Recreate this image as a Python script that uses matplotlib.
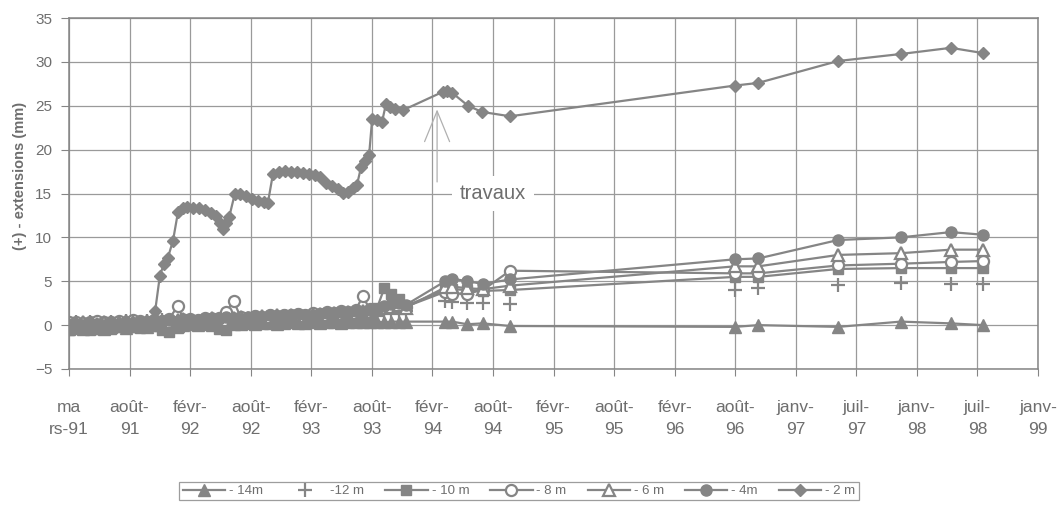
import numpy as np
import matplotlib
matplotlib.use("Agg")
import matplotlib.pyplot as plt

plt.rcParams['font.family'] = ['Liberation Sans', 'DejaVu Sans']

# ---------------- data ----------------
# x axis: days since 1 March 1991, one tick every 180 days
tick_labels = ["ma\nrs-91", "août-\n91", "févr-\n92", "août-\n92", "févr-\n93", "août-\n93",
               "févr-\n94", "août-\n94", "févr-\n95", "août-\n95", "févr-\n96", "août-\n96",
               "janv-\n97", "juil-\n97", "janv-\n98", "juil-\n98", "janv-\n99"]
tick_step = 180

# measurement days of the dense period (lower gauges)
days_dense = [0, 20, 41, 62, 84, 105, 126, 148, 169, 190, 212, 233, 254, 276, 297, 324,
              340, 361, 382, 404, 425, 446, 468, 489, 510, 532, 553, 574, 596, 617, 638,
              660, 681, 702, 724, 745, 766, 788, 809, 830, 852, 873, 894, 916, 937, 958,
              980, 1001]
# later, sparse measurement days
days_late = [1118, 1138, 1184, 1230, 1311, 1979, 2049, 2286, 2472, 2621, 2717]

m14 = [-0.4, -0.2, -0.4, -0.1, -0.3, -0.4, -0.2, -0.1, -0.3, -0.1, 0.0, -0.2, 0.0, 0.1, 0.0, -0.1,
       0.0, 0.1, 0.0, 0.1, 0.0, 0.1, 0.2, 0.1, 0.1, 0.2, 0.1, 0.2, 0.2, 0.1, 0.2, 0.3, 0.2, 0.2,
       0.3, 0.2, 0.3, 0.3, 0.2, 0.3, 0.4, 0.3, 0.3, 0.4, 0.3, 0.4, 0.4, 0.4,
       0.4, 0.4, 0.1, 0.2, -0.1, -0.2, 0.0, -0.2, 0.4, 0.2, 0.0]
m12 = [0.1, 0.3, 0.2, 0.4, 0.3, 0.2, 0.4, 0.3, 0.5, 0.4, 0.3, 0.5, 0.4, 0.6, 0.5, 0.4, 0.6,
       0.5, 0.4, 0.6, 0.5, 0.7, 0.6, 0.5, 0.7, 0.6, 0.8, 0.7, 0.6, 0.8, 0.7, 0.9, 0.8, 0.7,
       0.9, 0.8, 1.0, 0.9, 0.8, 1.0, 0.9, 1.1, 1.0, 1.2, 1.4, 1.5, 1.3, 1.6,
       2.7, 2.6, 2.5, 2.5, 2.4, 4.0, 4.2, 4.6, 4.8, 4.7, 4.7]
m10 = [-0.5, -0.4, -0.3, -0.5, -0.4, -0.3, -0.4, -0.2, -0.3, -0.2, -0.3, -0.2, -0.1, -0.6, -0.8,
       -0.3, 0.0, 0.1, 0.0, 0.2, 0.1, -0.4, -0.5, 0.1, 0.2, 0.3, 0.2, 0.3, 0.4, 0.3, 0.5, 0.4,
       0.5, 0.6, 0.5, 0.7, 0.6, 0.8, 0.7, 0.9, 0.8, 1.0, 1.2, 2.0, 4.2, 3.6, 3.0, 2.2,
       4.0, 4.1, 4.0, 3.9, 4.0, 5.5, 5.5, 6.4, 6.5, 6.5, 6.5]
m8 = [0.3, 0.4, 0.2, 0.3, 0.5, 0.4, 0.3, 0.5, 0.4, 0.6, 0.5, 0.4, 0.6, 0.5, 0.7, 2.2, 0.6,
      0.7, 0.6, 0.8, 0.7, 0.8, 1.5, 2.8, 0.9, 0.8, 1.0, 0.9, 1.1, 1.0, 1.2, 1.1, 1.3, 1.2,
      1.4, 1.3, 1.5, 1.4, 1.6, 1.5, 1.7, 3.3, 1.8, 1.7, 1.9, 2.1, 2.3, 2.1,
      3.8, 3.6, 3.6, 4.0, 6.2, 5.9, 5.9, 6.8, 7.0, 7.2, 7.3]
m6 = [0.1, 0.2, 0.3, 0.2, 0.1, 0.3, 0.4, 0.3, 0.5, 0.4, 0.3, 0.5, 0.6, 0.5, 0.4, 0.6, 0.7,
      0.6, 0.5, 0.7, 0.8, 0.7, 0.6, 0.8, 0.9, 0.8, 0.9, 1.0, 0.9, 1.1, 1.0, 1.2, 1.1, 1.0,
      1.2, 1.3, 1.2, 1.4, 1.3, 1.5, 1.4, 1.6, 1.5, 1.7, 1.9, 2.1, 2.3, 2.0,
      4.3, 4.4, 4.2, 4.1, 4.5, 6.7, 6.7, 8.0, 8.2, 8.6, 8.6]
m4 = [0.0, 0.1, 0.0, 0.2, 0.1, 0.0, 0.2, 0.1, 0.3, 0.2, 0.4, 0.3, 0.5, 0.4, 0.6, 0.5, 0.7,
      0.6, 0.5, 0.7, 0.8, 0.7, 0.9, 0.8, 0.7, 0.9, 1.0, 0.9, 1.1, 1.0, 1.2, 1.1, 1.3, 1.2,
      1.1, 1.3, 1.4, 1.3, 1.5, 1.4, 1.6, 1.5, 1.7, 1.8, 2.2, 2.4, 2.5, 2.3,
      5.0, 5.3, 5.0, 4.7, 5.2, 7.5, 7.6, 9.7, 10.0, 10.6, 10.3]

days_2m = [3, 33, 62, 92, 122, 152, 181, 211, 241, 256, 270, 282, 294, 309, 324, 339, 351,
           369, 386, 404, 422, 437, 449, 458, 467, 476, 493, 508, 526, 544, 562, 580, 591,
           606, 624, 642, 660, 678, 695, 713, 731, 746, 764, 782, 800, 814, 829, 844, 856,
           868, 880, 892, 901, 915, 930, 942, 954, 969, 993, 1112, 1124, 1138, 1186, 1227,
           1311, 1979, 2048, 2286, 2473, 2621, 2717]
m2 = [0.0, 0.1, -0.1, 0.0, 0.1, 0.0, 0.1, 0.2, 0.3, 1.6, 5.6, 7.0, 7.7, 9.6, 12.9, 13.3, 13.5,
      13.4, 13.3, 13.1, 12.8, 12.4, 11.6, 11.0, 11.6, 12.3, 15.0, 14.9, 14.7, 14.4, 14.2, 14.0,
      13.9, 17.2, 17.5, 17.6, 17.5, 17.4, 17.3, 17.2, 17.1, 16.9, 16.2, 15.8, 15.5, 15.1, 15.2,
      15.6, 16.0, 18.0, 18.7, 19.4, 23.5, 23.4, 23.1, 25.2, 24.9, 24.6, 24.5, 26.6, 26.7, 26.5,
      25.0, 24.3, 23.8, 27.3, 27.6, 30.1, 30.9, 31.6, 31.0]

series_labels = ["- 14m", "-12 m", "- 10 m", "- 8 m", "- 6 m", "- 4m", "- 2 m"]

# ---------------- figure ----------------
GRAY = '#858585'
TXT = '#6e6e6e'
GRID = '#9a9a9a'

fig = plt.figure(figsize=(10.64, 5.09), dpi=100)
ax = fig.add_axes([69 / 1064, 1 - 369 / 509, (1038 - 69) / 1064, (369 - 18) / 509])

n_ticks = len(tick_labels)
ax.set_xlim(0, tick_step * (n_ticks - 1))
ax.set_ylim(-5, 35)
ax.set_xticks([i * tick_step for i in range(n_ticks)])
ax.set_xticklabels(tick_labels, fontsize=12.5, color=TXT, linespacing=1.65)
ax.set_yticks(range(-5, 36, 5))
ax.tick_params(axis='y', labelsize=11, labelcolor=TXT, color=GRAY, length=6, width=0.8, pad=6)
ax.tick_params(axis='x', color=GRAY, length=5, width=0.8, pad=17)
ax.grid(True, color=GRID, lw=0.9)
ax.set_axisbelow(True)
for s in ax.spines.values():
    s.set_color(GRAY)
    s.set_linewidth(1.1)

ax.set_ylabel("(+) - extensions (mm)", fontsize=10.5, fontweight='bold', color=TXT)
ax.yaxis.set_label_coords(-0.043, 0.55)

x_low = days_dense + days_late
lw = 1.6
ax.plot(x_low, m14, color=GRAY, lw=lw, marker='^', ms=8, mfc=GRAY, mec=GRAY, label=series_labels[0])
ax.plot(x_low, m12, color=GRAY, ls='none', marker='+', ms=10, mew=1.6, label=series_labels[1])
ax.plot(x_low, m10, color=GRAY, lw=lw, marker='s', ms=7, mfc=GRAY, mec=GRAY, label=series_labels[2])
ax.plot(x_low, m8, color=GRAY, lw=lw, marker='o', ms=8, mfc='white', mec=GRAY, mew=1.6, label=series_labels[3])
ax.plot(x_low, m6, color=GRAY, lw=lw, marker='^', ms=8, mfc='white', mec=GRAY, mew=1.6, label=series_labels[4])
ax.plot(x_low, m4, color=GRAY, lw=lw, marker='o', ms=8, mfc=GRAY, mec=GRAY, label=series_labels[5])
ax.plot(days_2m, m2, color=GRAY, lw=lw, marker='D', ms=6.5, mfc=GRAY, mec=GRAY, label=series_labels[6])

# annotation "travaux"
ax.annotate("", xy=(1094, 24.9), xytext=(1094, 16.0),
            arrowprops=dict(arrowstyle='->,head_length=2.2,head_width=0.9', color='#b0b0b0', lw=0.9))
ax.text(1260, 15, "travaux", fontsize=14.5, color=TXT, ha='center', va='center',
        bbox=dict(boxstyle='square,pad=0.4', fc='white', ec='none'))

leg = fig.legend(loc='center', bbox_to_anchor=(519 / 1064, 1 - 491 / 509), ncol=7,
                 fontsize=9.5, frameon=True, fancybox=False, edgecolor=GRAY, handlelength=3.2,
                 handletextpad=0.3, columnspacing=1.6, borderpad=0.25)
leg.get_frame().set_linewidth(0.9)
for t in leg.get_texts():
    t.set_color(TXT)

fig.savefig("out.png", dpi=100)
